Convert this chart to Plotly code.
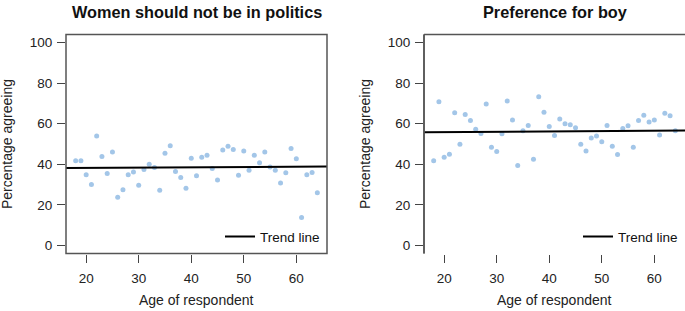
import plotly.graph_objects as go

# ---- data ----
ages = list(range(18, 65))
politics = [41.7, 41.7, 34.8, 30.0, 53.9, 43.8, 35.4, 46.1, 23.7, 27.5, 34.8, 36.2,
            29.7, 37.4, 40.0, 38.4, 27.2, 45.5, 49.1, 36.4, 33.5, 28.2, 43.0, 34.3,
            43.5, 44.5, 37.9, 32.3, 47.1, 48.9, 47.3, 34.6, 46.6, 37.1, 44.5, 40.7,
            46.1, 38.7, 37.1, 30.8, 35.8, 47.8, 42.7, 13.7, 34.8, 35.9, 26.0]
boy = [41.7, 70.8, 43.5, 45.0, 65.4, 49.9, 64.6, 61.6, 57.3, 55.2, 69.7, 48.4,
       46.3, 55.0, 71.2, 61.8, 39.4, 56.5, 59.1, 42.5, 73.3, 65.7, 58.6, 54.2,
       62.3, 60.0, 59.5, 58.0, 49.9, 46.5, 52.9, 53.9, 51.1, 59.1, 48.9, 44.8,
       57.7, 59.0, 48.4, 61.6, 64.2, 60.8, 61.8, 54.5, 65.2, 63.9, 56.5]
trend_politics = {"intercept": 37.97, "slope": 0.0141}
trend_boy = {"intercept": 55.51, "slope": 0.0181}
titles = ["Women should not be in politics", "Preference for boy"]
x_ticks = [20, 30, 40, 50, 60]
y_ticks = [0, 20, 40, 60, 80, 100]
x_range = [16.16, 65.84]
y_range = [-4, 104]

W, H = 685, 311
FONT = "Liberation Sans, Arial, sans-serif"
PT_COLOR = "#a3c6e8"
BOX_COLOR = "#555555"

# pixel geometry of the panels
left_px = [(66, 327), (424, 685)]
top_px, bot_px = 34.5, 253.5
ydom = [(H - bot_px) / H, (H - top_px) / H]

fig = go.Figure()

series = [politics, boy]
trends = [trend_politics, trend_boy]
for i in range(2):
    xa = "x" if i == 0 else "x2"
    ya = "y" if i == 0 else "y2"
    fig.add_trace(go.Scatter(
        x=ages, y=series[i], mode="markers", xaxis=xa, yaxis=ya,
        marker=dict(color=PT_COLOR, size=5), showlegend=False, hoverinfo="x+y"))
    tx = x_range
    ty = [trends[i]["intercept"] + trends[i]["slope"] * v for v in tx]
    fig.add_trace(go.Scatter(
        x=tx, y=ty, mode="lines", xaxis=xa, yaxis=ya, name="Trend line",
        line=dict(color="black", width=2),
        legend="legend" if i == 0 else "legend2", showlegend=True))

axis_common = dict(showgrid=False, zeroline=False, showline=False, ticks="outside",
                   ticklen=8, tickwidth=1, tickcolor="#444444",
                   tickfont=dict(family=FONT, size=13.5, color="#222222"))

layout = dict(width=W, height=H, margin=dict(l=0, r=0, t=0, b=0),
              paper_bgcolor="white", plot_bgcolor="white",
              font=dict(family=FONT, color="#222222"))
for i in range(2):
    sfx = "" if i == 0 else "2"
    x0, x1 = left_px[i]
    layout["xaxis" + sfx] = dict(domain=[x0 / W, x1 / W], range=x_range, tickvals=x_ticks,
                                 anchor="y" + sfx, ticklabelstandoff=4, **axis_common)
    layout["yaxis" + sfx] = dict(domain=ydom, range=y_range, tickvals=y_ticks,
                                 anchor="x" + sfx, ticklabelstandoff=2, **axis_common)
fig.update_layout(**layout)

# legends (bottom right, no box)
for i in range(2):
    key = "legend" if i == 0 else "legend2"
    x0, x1 = left_px[i]
    fig.update_layout(**{key: dict(x=(x1 - 2) / W, xanchor="right",
                                   y=(H - 236.7) / H, yanchor="middle",
                                   bgcolor="rgba(0,0,0,0)", borderwidth=0,
                                   font=dict(family=FONT, size=13.5, color="#111111"))})

shapes = []
# left panel full box
shapes.append(dict(type="rect", xref="x domain", yref="y domain", x0=0, x1=1, y0=0, y1=1,
                   line=dict(color=BOX_COLOR, width=1.5), layer="above"))
# right panel box (right side falls at the page edge)
for (a, b, c, d) in [(0, 0, 0, 1), (0, 1, 1, 1), (0, 0, 1, 0)]:
    shapes.append(dict(type="line", xref="x2 domain", yref="y2 domain", x0=a, y0=c, x1=b, y1=d,
                       line=dict(color=BOX_COLOR, width=1.5), layer="above"))

annotations = []
for i in range(2):
    x0, x1 = left_px[i]
    cx = (x0 + x1) / 2 / W
    annotations.append(dict(text="<b>%s</b>" % titles[i], x=cx, y=(H - 12) / H,
                            xref="paper", yref="paper", showarrow=False,
                            xanchor="center", yanchor="middle",
                            font=dict(family=FONT, size=16.3, color="#111111")))
    annotations.append(dict(text="Age of respondent", x=cx, y=(H - 300) / H,
                            xref="paper", yref="paper", showarrow=False,
                            xanchor="center", yanchor="middle",
                            font=dict(family=FONT, size=14, color="#222222")))
    annotations.append(dict(text="Percentage agreeing", x=(x0 - 59) / W, y=(H - 144) / H,
                            xref="paper", yref="paper", showarrow=False, textangle=-90,
                            xanchor="center", yanchor="middle",
                            font=dict(family=FONT, size=14, color="#222222")))

fig.update_layout(shapes=shapes, annotations=annotations)
fig.write_html("out.html", config={"displayModeBar": False},
               post_script="document.body.style.margin='0px';")
